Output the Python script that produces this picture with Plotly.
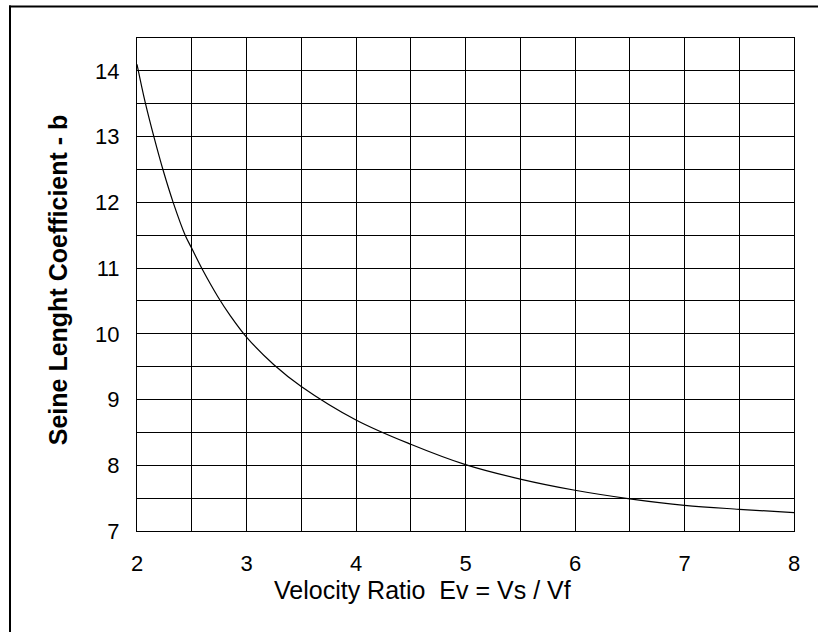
import plotly.graph_objects as go

velocity_ratio = [2.0, 2.075, 2.157, 2.24, 2.33, 2.44, 2.5, 2.6, 2.74, 2.85, 3.0,
                  3.25, 3.5, 4.0, 4.5, 5.0, 5.5, 6.0, 6.5, 7.0, 7.5, 8.0]
seine_coeff = [14.1, 13.52, 12.98, 12.48, 12.0, 11.5, 11.3, 10.97, 10.56, 10.28, 9.95,
               9.53, 9.20, 8.69, 8.32, 8.01, 7.79, 7.62, 7.49, 7.39, 7.33, 7.28]
x_ticks = [2, 3, 4, 5, 6, 7, 8]
y_ticks = [7, 8, 9, 10, 11, 12, 13, 14]

FONT = "Arial, Liberation Sans, sans-serif"
L, R, T, B = 137, 794, 37.5, 531
W, H = 818, 632
pw, ph = R - L, B - T

def px(x):
    return (x - L) / pw

def py(y):
    return (B - y) / ph

fig = go.Figure()
fig.add_trace(go.Scatter(x=velocity_ratio, y=seine_coeff, mode="lines",
                         line=dict(color="black", width=1.2, shape="spline", smoothing=1.0),
                         showlegend=False, hoverinfo="skip"))

fig.update_layout(
    width=W, height=H,
    margin=dict(l=L, r=W - R, t=T, b=H - B),
    paper_bgcolor="white", plot_bgcolor="white",
    font=dict(family=FONT, color="black", size=22),
    xaxis=dict(range=[2, 8], tickvals=x_ticks, ticktext=[str(v) for v in x_ticks],
               showgrid=True, gridcolor="black", gridwidth=1,
               minor=dict(dtick=0.5, tick0=2, showgrid=True, gridcolor="black", gridwidth=1),
               showline=True, linecolor="black", linewidth=1, mirror=True,
               ticks="", ticklabelstandoff=13, zeroline=False,
               tickfont=dict(size=22, family=FONT)),
    yaxis=dict(range=[7, 14.5], tickvals=y_ticks, ticktext=[str(v) for v in y_ticks],
               showgrid=True, gridcolor="black", gridwidth=1,
               minor=dict(dtick=0.5, tick0=7, showgrid=True, gridcolor="black", gridwidth=1),
               showline=True, linecolor="black", linewidth=1, mirror=True,
               ticks="", ticklabelstandoff=12, zeroline=False,
               tickfont=dict(size=22, family=FONT)),
    shapes=[
        dict(type="line", xref="paper", yref="paper", layer="above",
             x0=px(9), x1=px(818), y0=py(6), y1=py(6),
             line=dict(color="black", width=2)),
        dict(type="line", xref="paper", yref="paper", layer="above",
             x0=px(10), x1=px(10), y0=py(5), y1=py(632),
             line=dict(color="black", width=2)),
    ],
    annotations=[
        dict(text="Velocity Ratio&nbsp;&nbsp;Ev = Vs / Vf", xref="paper", yref="paper",
             x=px(422.5), y=py(590), xanchor="center", yanchor="middle",
             showarrow=False, font=dict(size=25, family=FONT)),
        dict(text="<b>Seine Lenght Coefficient - b</b>", xref="paper", yref="paper",
             x=px(58), y=py(280), xanchor="center", yanchor="middle", textangle=-90,
             showarrow=False, font=dict(size=25, family=FONT)),
    ],
)

fig.write_html("out.html", config={"displayModeBar": False},
               post_script="document.body.style.margin='0';")
